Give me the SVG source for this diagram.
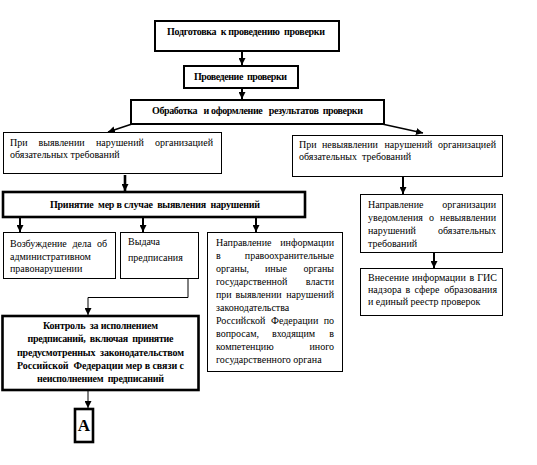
<svg xmlns="http://www.w3.org/2000/svg" width="537" height="465" viewBox="0 0 537 465">
<defs>
<marker id="ah" markerUnits="userSpaceOnUse" markerWidth="7" markerHeight="7" refX="6" refY="3" orient="auto" viewBox="0 0 6 6">
<path d="M0,0 L6,3 L0,6 z" fill="#000"/>
</marker>
<style>
rect{fill:#fff;stroke:#000}
.thin{stroke-width:1}
.med{stroke-width:2}
.thick{stroke-width:2.6}
text{font-family:"Liberation Serif","Times New Roman",serif;font-size:10px;fill:#000;white-space:pre}
.b{font-weight:bold}
.c{text-anchor:middle}
.e{text-anchor:end}
.conn line,.conn polyline{stroke:#000;fill:none;marker-end:url(#ah)}
</style>
</defs>
<rect x="0" y="0" width="537" height="465" style="fill:#fff;stroke:none"/>
<g class="conn" id="connectors">
<line x1="242" y1="52" x2="242" y2="65" stroke-width="2"/>
<line x1="242" y1="89" x2="242" y2="99" stroke-width="2"/>
<line x1="132" y1="124" x2="108" y2="132" stroke-width="1.4"/>
<line x1="382" y1="124" x2="423" y2="133" stroke-width="1.4"/>
<line x1="125" y1="175" x2="125" y2="191" stroke-width="2.6"/>
<line x1="20" y1="218" x2="20" y2="232" stroke-width="2"/>
<line x1="143" y1="218" x2="143" y2="232" stroke-width="2"/>
<line x1="256" y1="218" x2="256" y2="232" stroke-width="2"/>
<line x1="403" y1="177" x2="403" y2="194" stroke-width="2"/>
<line x1="434" y1="252" x2="434" y2="268" stroke-width="2"/>
<polyline points="188,279 188,297.5 88,297.5 88,315" stroke-width="1"/>
<line x1="88" y1="391" x2="88" y2="408" stroke-width="1"/>
</g>
<g id="n1">
<rect class="med" x="155" y="21" width="184" height="30"/>
<text class="b" x="167" y="35" textLength="158" lengthAdjust="spacing">Подготовка  к проведению  проверки</text>
</g>
<g id="n2">
<rect class="med" x="184" y="66" width="114" height="22"/>
<text class="b" x="194" y="80" textLength="93" lengthAdjust="spacing">Проведение  проверки</text>
</g>
<g id="n3">
<rect class="med" x="131" y="100" width="253" height="24"/>
<text class="b" x="152" y="114" textLength="211" lengthAdjust="spacing">Обработка   и оформление   результатов  проверки</text>
</g>
<g id="n4">
<rect class="thin" x="3.5" y="132.5" width="218" height="41"/>
<text x="10" y="146">При</text><text x="38.5" y="146">выявлении</text><text x="96" y="146">нарушений</text><text class="e" x="213" y="146">организацией</text>
<text x="10" y="158">обязательных требований</text>
</g>
<g id="n5">
<rect class="thin" x="292.5" y="135.5" width="210" height="41"/>
<text x="299" y="148">При</text><text x="322" y="148">невыявлении</text><text x="384.5" y="148">нарушений</text><text class="e" x="496" y="148">организацией</text>
<text x="299" y="160">обязательных  требований</text>
</g>
<g id="n6">
<rect class="thick" x="3" y="192" width="302" height="25"/>
<text class="b" x="50" y="208" textLength="210" lengthAdjust="spacing">Принятие  мер в случае  выявления  нарушений</text>
</g>
<g id="n7">
<rect class="thin" x="3.5" y="232.5" width="112" height="46"/>
<text x="10" y="247">Возбуждение</text><text x="72.5" y="247">дела</text><text class="e" x="107" y="247">об</text>
<text x="10" y="260">административном</text>
<text x="10" y="272">правонарушении</text>
</g>
<g id="n8">
<rect class="thin" x="120.5" y="232.5" width="78" height="46"/>
<text x="128" y="245">Выдача</text>
<text x="128" y="261">предписания</text>
</g>
<g id="n10">
<rect class="thin" x="207.5" y="232.5" width="135" height="139"/>
<text x="216" y="246">Направление</text><text class="e" x="334" y="246">информации</text>
<text x="216" y="259">в</text><text class="e" x="334" y="259">правоохранительные</text>
<text x="216" y="272">органы,</text><text x="265" y="272">иные</text><text class="e" x="334" y="272">органы</text>
<text x="216" y="285">государственной</text><text class="e" x="334" y="285">власти</text>
<text x="216" y="298">при</text><text x="235.5" y="298">выявлении</text><text class="e" x="334" y="298">нарушений</text>
<text x="216" y="311">законодательства</text>
<text x="216" y="324">Российской</text><text x="271" y="324">Федерации</text><text class="e" x="334" y="324">по</text>
<text x="216" y="337">вопросам,</text><text x="272" y="337">входящим</text><text class="e" x="334" y="337">в</text>
<text x="216" y="350">компетенцию</text><text class="e" x="334" y="350">иного</text>
<text x="216" y="363">государственного органа</text>
</g>
<g id="n11">
<rect class="thin" x="360.5" y="194.5" width="142" height="58"/>
<text x="368" y="208">Направление</text><text class="e" x="496" y="208">организации</text>
<text x="368" y="221">уведомления</text><text x="429" y="221">о</text><text class="e" x="496" y="221">невыявлении</text>
<text x="368" y="234">нарушений</text><text class="e" x="496" y="234">обязательных</text>
<text x="368" y="247">требований</text>
</g>
<g id="n12">
<rect class="thin" x="360.5" y="268.5" width="142" height="47"/>
<text x="368" y="281">Внесение</text><text x="412" y="281">информации</text><text x="469.5" y="281">в</text><text class="e" x="497" y="281">ГИС</text>
<text x="368" y="293">надзора</text><text x="405.5" y="293">в</text><text x="414.5" y="293">сфере</text><text class="e" x="497" y="293">образования</text>
<text x="368" y="305">и единый реестр проверок</text>
</g>
<g id="n9">
<rect class="thick" x="2.5" y="316" width="196" height="74"/>
<text class="b c" x="100.5" y="329" textLength="115" lengthAdjust="spacing">Контроль  за исполнением</text>
<text class="b c" x="100.5" y="342" textLength="146" lengthAdjust="spacing">предписаний,  включая  принятие</text>
<text class="b c" x="100.5" y="356" textLength="167" lengthAdjust="spacing">предусмотренных  законодательством</text>
<text class="b c" x="100.5" y="369" textLength="167" lengthAdjust="spacing">Российской  Федерации мер в связи с</text>
<text class="b c" x="100.5" y="382" textLength="127" lengthAdjust="spacing">неисполнением  предписаний</text>
</g>
<g id="nA">
<rect class="thick" x="75" y="409" width="18" height="33"/>
<text class="b c" x="84" y="431" style="font-size:17px">А</text>
</g>
</svg>
